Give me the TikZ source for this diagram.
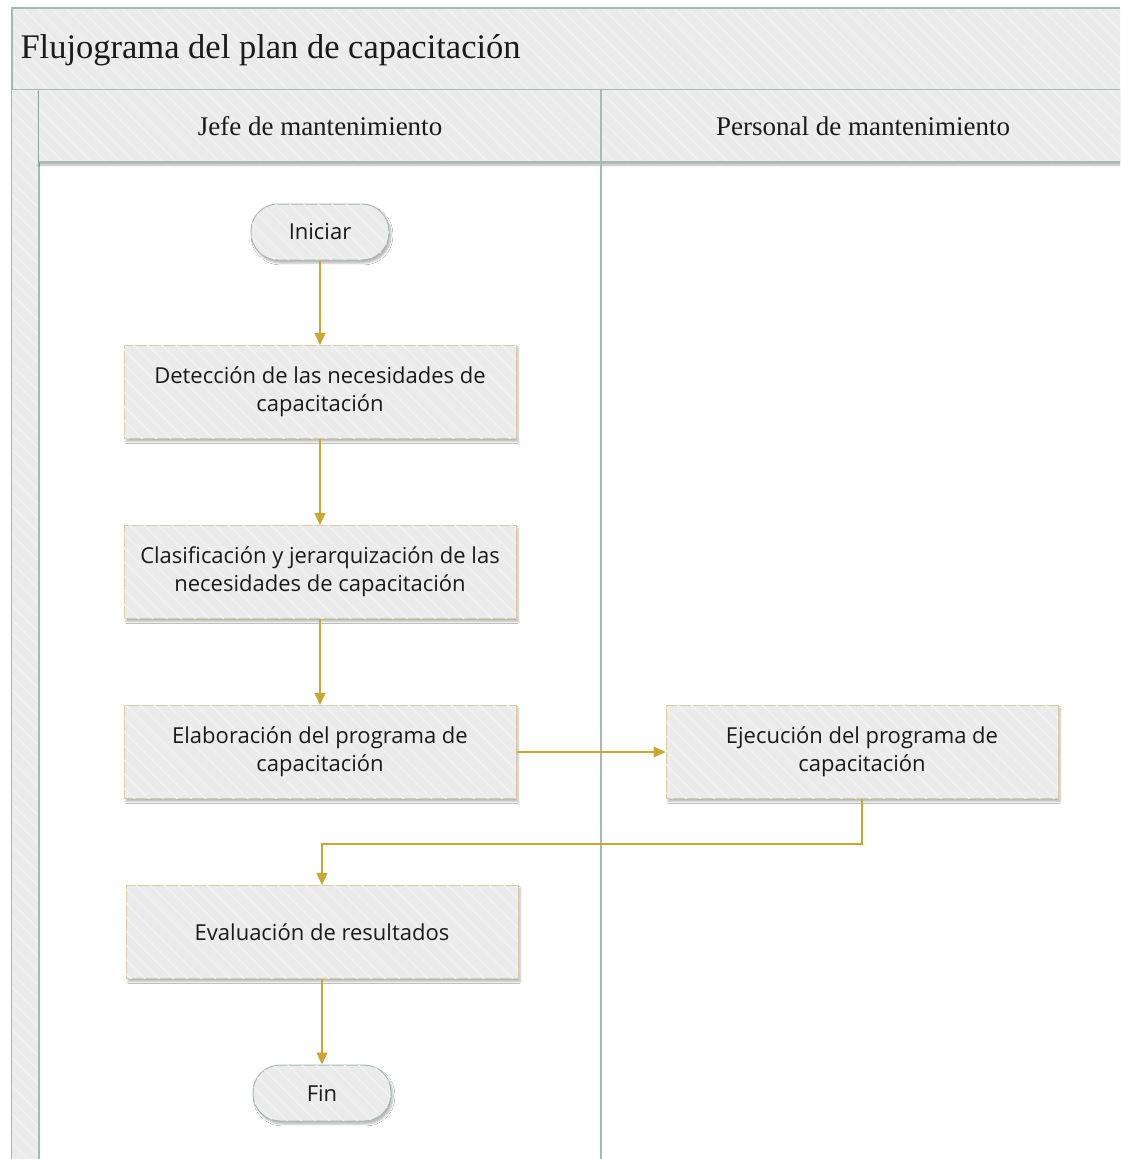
\documentclass[tikz,border=0pt]{standalone}
\usepackage{fontspec}
\setmainfont{Liberation Serif}
\newfontfamily\boxfont{Open Sans}
\usetikzlibrary{arrows.meta,shadows.blur,patterns.meta}

\definecolor{laneLine}{HTML}{A3BBB1}
\definecolor{paneFill}{HTML}{EBEBEB}
\definecolor{boxLine}{HTML}{D8CDA2}
\definecolor{flowGold}{HTML}{CBA634}
\definecolor{inkText}{HTML}{1A1A1A}

\tikzset{
  hatched/.style={fill=paneFill,
    postaction={pattern={Lines[angle=-45,distance=10pt,line width=1pt]},
      pattern color=white!40!paneFill}},
  laneedge/.style={draw=laneLine, line width=1.3pt},
  softshadow/.style={blur shadow={shadow xshift=2pt, shadow yshift=-3pt,
    shadow blur steps=6, shadow opacity=28}},
  procbox/.style={rectangle, draw=boxLine, line width=1pt, hatched, softshadow,
    minimum width=392pt, minimum height=93pt, align=center,
    font=\boxfont\fontsize{22}{28}\selectfont, text=inkText},
  terminal/.style={rectangle, rounded corners=27pt, draw=laneLine, line width=1pt,
    hatched, softshadow, minimum width=138pt, minimum height=56pt,
    font=\boxfont\fontsize{22}{28}\selectfont, text=inkText},
  flow/.style={draw=flowGold, line width=1.2pt,
    -{Triangle[length=12pt,width=11pt]}},
}

\begin{document}
\begin{tikzpicture}[x=1pt,y=-1pt]
  \useasboundingbox (0,0) rectangle (1120,1159);
  \fill[white] (0,0) rectangle (1120,1159);
  \clip (0,0) rectangle (1120,1159);

  % pool title band
  \path[hatched] (12,8) rectangle (1160,90);
  \draw[laneedge] (1160,8) -- (12,8) -- (12,1190);
  \draw[laneedge] (12,90) -- (1160,90);
  \node[anchor=west, font=\fontsize{34.5}{40}\selectfont, text=inkText]
    (title) at (17,50) {Flujograma del plan de capacitación};

  % vertical strip on the left
  \path[hatched] (12,90) rectangle (39,1190);
  \draw[laneedge] (39,90) -- (39,1190);

  % lane header band
  \path[fill=paneFill, blur shadow={shadow xshift=0pt, shadow yshift=-3pt,
    shadow blur steps=4, shadow opacity=30}] (39,90) rectangle (1160,162);
  \path[hatched] (39,90) rectangle (1160,162);
  \draw[laneedge] (39,162) -- (1160,162);
  \draw[laneedge] (601,90) -- (601,1190);

  \node[font=\fontsize{27}{32}\selectfont, text=inkText] (laneA) at (320,126)
    {Jefe de mantenimiento};
  \node[font=\fontsize{27}{32}\selectfont, text=inkText] (laneB) at (863,126)
    {Personal de mantenimiento};

  % flow steps
  \node[terminal] (start) at (320,232) {Iniciar};
  \node[procbox] (detect) at (320,392)
    {Detección de las necesidades de\\capacitación};
  \node[procbox] (classify) at (320,572)
    {Clasificación y jerarquización de las\\necesidades de capacitación};
  \node[procbox] (design) at (320,752)
    {Elaboración del programa de\\capacitación};
  \node[procbox] (execute) at (862,752)
    {Ejecución del programa de\\capacitación};
  \node[procbox] (evaluate) at (322,932) {Evaluación de resultados};
  \node[terminal] (finish) at (322,1093) {Fin};

  \coordinate (turnR) at (862,844);
  \coordinate (turnL) at (322,844);

  % connectors
  \draw[flow] (start) -- (detect);
  \draw[flow] (detect) -- (classify);
  \draw[flow] (classify) -- (design);
  \draw[flow] (design) -- (execute);
  \draw[flow] (execute.south) -- (turnR) -- (turnL) -- (evaluate.north);
  \draw[flow] (evaluate) -- (finish);
\end{tikzpicture}
\end{document}
